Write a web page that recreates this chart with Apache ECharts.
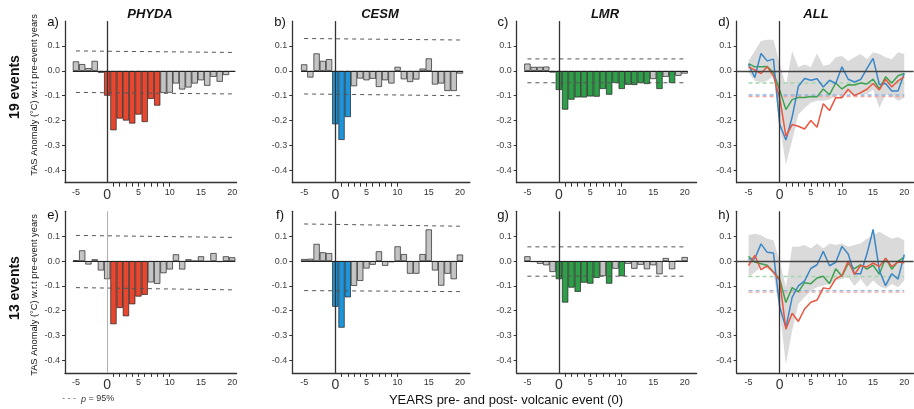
<!DOCTYPE html>
<html>
<head>
<meta charset="utf-8">
<script src="https://cdn.jsdelivr.net/npm/echarts@6/dist/echarts.min.js"></script>
<style>
  html, body { margin: 0; padding: 0; background: #fff; }
  #chart { width: 914px; height: 409px; }
</style>
</head>
<body>
<div id="chart"></div>
<script>
const myChart = echarts.init(document.getElementById("chart"));

// years relative to the eruption
const years = [-5, -4, -3, -2, -1, 0, 1, 2, 3, 4, 5, 6, 7, 8, 9, 10, 11, 12, 13, 14, 15, 16, 17, 18, 19, 20];
const yTicks = [-0.4, -0.3, -0.2, -0.1, 0, 0.1];
const xLabels = [-5, 0, 5, 10, 15, 20];
const xTicks = [1, 2, 3, 4, 5, 6, 7, 8, 9, 10];

// 19 events
const phyda19 = [0.038, 0.027, 0.011, 0.04, -0.008, -0.1, -0.239, -0.192, -0.2, -0.212, -0.176, -0.206, -0.113, -0.14, -0.089, -0.088, -0.051, -0.075, -0.067, -0.051, -0.038, -0.06, -0.024, -0.044, -0.017, -0.004];
const cesm19 = [0.026, -0.027, 0.07, 0.04, 0.047, -0.215, -0.278, -0.186, -0.062, -0.031, -0.038, -0.032, -0.065, -0.038, -0.051, 0.016, -0.034, -0.045, -0.035, 0.009, 0.05, -0.055, -0.051, -0.081, -0.081, -0.011];
const lmr19 = [0.029, 0.016, 0.016, 0.017, -0.007, -0.077, -0.156, -0.116, -0.107, -0.107, -0.103, -0.104, -0.073, -0.096, -0.049, -0.073, -0.056, -0.057, -0.049, -0.053, -0.033, -0.073, -0.024, -0.049, -0.02, -0.011];
const phydaLine19 = [0.016, 0.004, -0.011, 0.016, -0.02, -0.108, -0.263, -0.216, -0.223, -0.234, -0.2, -0.227, -0.132, -0.16, -0.108, -0.108, -0.074, -0.1, -0.088, -0.074, -0.051, -0.077, -0.034, -0.065, -0.04, -0.024];
const bandUp19 = [0.04, 0.08, 0.12, 0.125, 0.125, 0.03, -0.06, 0.08, 0.015, 0.025, 0.015, 0.07, 0.02, 0.025, 0.055, 0.06, 0.04, 0.055, 0.068, 0.047, 0.075, 0.068, 0.055, 0.047, 0.075, 0.068];
const bandLo19 = [-0.007, -0.04, -0.047, -0.04, -0.02, -0.22, -0.378, -0.28, -0.176, -0.15, -0.128, -0.12, -0.12, -0.115, -0.1, -0.095, -0.088, -0.1, -0.092, -0.095, -0.074, -0.15, -0.095, -0.1, -0.12, -0.108];

// 13 events
const phyda13 = [0.003, 0.043, -0.014, 0.007, -0.038, -0.073, -0.254, -0.189, -0.222, -0.174, -0.143, -0.136, -0.086, -0.092, -0.049, -0.034, 0.027, -0.034, 0.007, 0, 0.019, -0.002, 0.032, -0.004, 0.019, 0.015];
const cesm13 = [0.008, 0.009, 0.069, 0.035, 0.032, -0.184, -0.268, -0.146, -0.1, -0.08, -0.03, -0.015, 0.039, -0.019, -0.005, 0.059, 0.028, -0.051, -0.051, 0.028, 0.127, -0.038, -0.099, -0.051, -0.073, 0.026];
const lmr13 = [0.019, -0.004, -0.011, -0.017, -0.044, -0.073, -0.167, -0.107, -0.124, -0.087, -0.091, -0.068, -0.061, -0.091, -0.031, -0.061, -0.011, -0.031, -0.015, -0.033, -0.017, -0.053, 0.012, -0.033, -0.001, 0.016];
const phydaLine13 = [-0.018, 0.023, -0.035, -0.02, -0.045, -0.078, -0.274, -0.21, -0.243, -0.193, -0.166, -0.157, -0.108, -0.112, -0.072, -0.058, 0, -0.054, -0.018, -0.024, -0.008, -0.022, 0.01, -0.022, -0.004, -0.007];
const bandUp13 = [0.104, 0.11, 0.104, 0.09, 0.084, 0.0, -0.105, 0.057, 0.057, 0.064, 0.05, 0.07, 0.05, 0.07, 0.064, 0.07, 0.057, 0.064, 0.07, 0.09, 0.104, 0.118, 0.104, 0.09, 0.097, 0.084];
const bandLo13 = [-0.065, -0.045, -0.024, -0.03, -0.05, -0.2, -0.416, -0.28, -0.173, -0.146, -0.12, -0.105, -0.098, -0.092, -0.078, -0.072, -0.065, -0.1, -0.072, -0.105, -0.078, -0.1, -0.112, -0.092, -0.105, -0.078];

// significant years (coloured bars)
const sigA = [0, 1, 2, 3, 4, 5, 6, 7, 8];
const sigB = [0, 1, 2];
const sigC = [0, 1, 2, 3, 4, 5, 6, 7, 8, 9, 10, 11, 12, 13, 14, 16, 18];
const sigE = [1, 2, 3, 4, 5, 6];
const sigF = [0, 1, 2];
const sigG = [0, 1, 2, 3, 4, 5, 6, 8, 10];

// p = 95% thresholds, value at year -5 and year 20
const upA = [0.08, 0.074], loA = [-0.087, -0.093];
const upB = [0.13, 0.124], loB = [-0.093, -0.1];
const upC = [0.048, 0.048], loC = [-0.048, -0.048];
const upE = [0.103, 0.095], loE = [-0.107, -0.116];
const upF = [0.149, 0.14], loF = [-0.119, -0.123];
const upG = [0.057, 0.057], loG = [-0.061, -0.061];
const allD = { green: -0.049, blue: -0.097, red: -0.103 };
const allH = { green: -0.062, blue: -0.119, red: -0.125 };

const RED = "#E8472F", BLUE = "#1E95DA", GREEN = "#2E9E48", GRAY = "#C4C4C4";
const LRED = "#EA5640", LBLUE = "#3B87C6", LGREEN = "#3FA152";
const FONT = "'Liberation Sans', Arial, sans-serif";

const cols = [
  { left: 65, min: -6.75, max: 20.7, w: 171.6 },
  { left: 292.3, min: -6.9, max: 21.6, w: 177.6 },
  { left: 516.7, min: -6.7, max: 21.9, w: 179.9 },
  { left: 736.7, min: -6.9, max: 21.5, w: 176.9 }
];
const rows = [{ top: 21.1, h: 161.6 }, { top: 211.3, h: 161.6 }];

const panels = [
  { letter: "a)", row: 0, col: 0, vals: phyda19, sig: sigA, color: RED, up: upA, lo: loA },
  { letter: "b)", row: 0, col: 1, vals: cesm19, sig: sigB, color: BLUE, up: upB, lo: loB },
  { letter: "c)", row: 0, col: 2, vals: lmr19, sig: sigC, color: GREEN, up: upC, lo: loC },
  { letter: "d)", row: 0, col: 3, all: true, red: phydaLine19, blue: cesm19, green: lmr19, bu: bandUp19, bl: bandLo19, th: allD },
  { letter: "e)", row: 1, col: 0, vals: phyda13, sig: sigE, color: RED, up: upE, lo: loE, thinZero: true },
  { letter: "f)", row: 1, col: 1, vals: cesm13, sig: sigF, color: BLUE, up: upF, lo: loF },
  { letter: "g)", row: 1, col: 2, vals: lmr13, sig: sigG, color: GREEN, up: upG, lo: loG },
  { letter: "h)", row: 1, col: 3, all: true, red: phydaLine13, blue: cesm13, green: lmr13, bu: bandUp13, bl: bandLo13, th: allH }
];

const grid = [], xAxis = [], yAxis = [], series = [];

panels.forEach((p, i) => {
  const c = cols[p.col], r = rows[p.row];
  grid.push({ left: c.left, top: r.top, width: c.w, height: r.h, outerBoundsMode: "none" });
  xAxis.push({
    type: "value", gridIndex: i, min: c.min, max: c.max,
    splitLine: { show: false },
    axisLine: { show: true, onZero: false, lineStyle: { color: "#333", width: 1.3 } },
    axisTick: { show: true, customValues: xTicks, length: 4, lineStyle: { color: "#333" } },
    axisLabel: {
      customValues: xLabels, fontSize: 9, color: "#333", margin: 5, fontFamily: FONT,
      formatter: v => (v === 0 ? "{z|0}" : String(v)),
      rich: { z: { fontSize: 14, color: "#333", fontFamily: FONT } }
    }
  });
  yAxis.push({
    type: "value", gridIndex: i, min: -0.45, max: 0.2,
    splitLine: { show: false },
    axisLine: { show: true, onZero: false, lineStyle: { color: "#333", width: 1.3 } },
    axisTick: { show: true, customValues: yTicks, length: 3, lineStyle: { color: "#333" } },
    axisLabel: { customValues: yTicks, fontSize: 9, color: "#444", margin: 5, fontFamily: FONT, formatter: v => v.toFixed(1) }
  });

  const zeroV = {
    xAxis: 0,
    lineStyle: p.thinZero ? { color: "#9a9a9a", width: 0.8, type: "solid" } : { color: "#333", width: 1.3, type: "solid" }
  };

  if (!p.all) {
    const bw = c.w / (c.max - c.min);
    series.push({
      type: "bar", xAxisIndex: i, yAxisIndex: i, barWidth: bw, z: 2,
      data: years.map((y, k) => ({
        value: [y, p.vals[k]],
        itemStyle: { color: p.sig.includes(y) ? p.color : GRAY, borderColor: "#222", borderWidth: 0.7 }
      })),
      markLine: {
        symbol: "none", silent: true, label: { show: false }, animation: false,
        data: [
          zeroV,
          [{ coord: [-5.5, 0], lineStyle: { color: "#222", width: 1, type: "solid" } }, { coord: [20.5, 0] }]
        ]
      }
    });
    [p.up, p.lo].forEach(t => {
      series.push({
        type: "line", xAxisIndex: i, yAxisIndex: i, showSymbol: false, silent: true, z: 3,
        lineStyle: { color: "#555", width: 1, type: [4, 4] },
        data: [[-5, t[0]], [20, t[1]]]
      });
    });
  } else {
    series.push({
      type: "custom", xAxisIndex: i, yAxisIndex: i, silent: true, z: 1,
      data: [[0, 0]],
      renderItem: (params, api) => {
        const top = years.map((y, k) => api.coord([y, p.bu[k]]));
        const bot = years.map((y, k) => api.coord([y, p.bl[k]])).reverse();
        return { type: "polygon", shape: { points: top.concat(bot) }, style: { fill: "#DADADA" } };
      }
    });
    [["red", "#F2A79E"], ["blue", "#93B5DE"], ["green", "#A2D6A9"]].forEach(([k, col]) => {
      series.push({
        type: "line", xAxisIndex: i, yAxisIndex: i, showSymbol: false, silent: true, z: 2,
        lineStyle: { color: col, width: 1.4, type: [4, 3] },
        data: [[-5, p.th[k]], [20, p.th[k]]]
      });
    });
    series.push({
      type: "line", xAxisIndex: i, yAxisIndex: i, showSymbol: false, silent: true, z: 3,
      lineStyle: { width: 0 }, data: [],
      markLine: {
        symbol: "none", silent: true, label: { show: false }, animation: false,
        data: [zeroV, { yAxis: 0, lineStyle: { color: "#444", width: 1.4, type: "solid" } }]
      }
    });
    [[p.green, LGREEN], [p.blue, LBLUE], [p.red, LRED]].forEach(([arr, col]) => {
      series.push({
        type: "line", xAxisIndex: i, yAxisIndex: i, showSymbol: false, silent: true, z: 4,
        lineStyle: { color: col, width: 1.5 },
        data: years.map((y, k) => [y, arr[k]])
      });
    });
  }
});

// titles, panel letters and axis names
const txt = (x, y, text, font, extra) => Object.assign({
  type: "text", x: x, y: y, silent: true,
  style: { text: text, font: font, fill: "#111", align: "center", verticalAlign: "middle" }
}, extra || {});

const graphic = [
  txt(150, 14, "PHYDA", "italic bold 13px " + FONT),
  txt(380, 14, "CESM", "italic bold 13px " + FONT),
  txt(605, 14, "LMR", "italic bold 13px " + FONT),
  txt(816, 14, "ALL", "italic bold 13px " + FONT),
  txt(53, 22, "a)", "13px " + FONT),
  txt(280, 22, "b)", "13px " + FONT),
  txt(503, 22, "c)", "13px " + FONT),
  txt(724, 22, "d)", "13px " + FONT),
  txt(53, 215, "e)", "13px " + FONT),
  txt(280, 215, "f)", "13px " + FONT),
  txt(503, 215, "g)", "13px " + FONT),
  txt(724, 215, "h)", "13px " + FONT),
  txt(15.5, 87, "19 events", "bold 14px " + FONT, { rotation: Math.PI / 2 }),
  txt(15.5, 288, "13 events", "bold 14px " + FONT, { rotation: Math.PI / 2 }),
  txt(34, 95, "TAS Anomaly (°C) w.r.t pre-event years", "9.3px " + FONT, { rotation: Math.PI / 2 }),
  txt(34, 295, "TAS Anomaly (°C) w.r.t pre-event years", "9.3px " + FONT, { rotation: Math.PI / 2 }),
  txt(506, 400, "YEARS pre- and post- volcanic event (0)", "13px " + FONT),
  {
    type: "text", x: 62, y: 399, silent: true,
    style: {
      text: "{d|- - -}  {i|p} = 95%", fill: "#333", verticalAlign: "middle",
      font: "9px " + FONT,
      rich: { d: { fill: "#666", font: "9px " + FONT }, i: { font: "italic 9px " + FONT, fill: "#333" } }
    }
  }
];

let option = {
  animation: false,
  textStyle: { fontFamily: FONT },
  grid: grid,
  xAxis: xAxis,
  yAxis: yAxis,
  series: series,
  graphic: graphic
};

myChart.setOption(option);
</script>
</body>
</html>
